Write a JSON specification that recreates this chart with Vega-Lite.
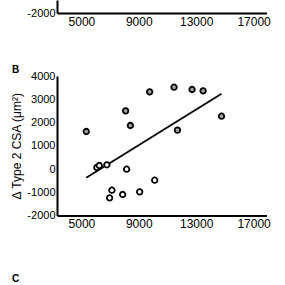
{
  "$schema": "https://vega.github.io/schema/vega-lite/v6.json",
  "background": "white",
  "padding": {"left": 10, "top": 0, "right": 0, "bottom": 0},
  "spacing": 38,
  "config": {
    "view": {"stroke": null},
    "font": "Liberation Sans",
    "axis": {
      "domainColor": "black", "domainWidth": 2, "ticks": false, "grid": false,
      "labelColor": "black", "labelFont": "Liberation Sans", "labelFontSize": 11,
      "labelExpr": "'' + datum.value",
      "titleFont": "Liberation Sans", "titleFontWeight": "normal", "titleColor": "black", "titleFontSize": 12
    },
    "axisX": {"labelFontSize": 12},
    "title": {"font": "Liberation Sans", "fontSize": 10, "fontWeight": "bold", "color": "black", "anchor": "start", "frame": "group", "dx": -45, "lineHeight": 5.5}
  },
  "datasets": {
    "points": [
      {"x": 5339, "y": 1613, "group": "gray"},
      {"x": 8084, "y": 2503, "group": "gray"},
      {"x": 8412, "y": 1871, "group": "gray"},
      {"x": 9760, "y": 3320, "group": "gray"},
      {"x": 11456, "y": 3518, "group": "gray"},
      {"x": 12713, "y": 3419, "group": "gray"},
      {"x": 13482, "y": 3363, "group": "gray"},
      {"x": 14766, "y": 2271, "group": "gray"},
      {"x": 11694, "y": 1669, "group": "gray"},
      {"x": 6079, "y": 65, "group": "white"},
      {"x": 6247, "y": 151, "group": "white"},
      {"x": 6778, "y": 181, "group": "white"},
      {"x": 8153, "y": -9, "group": "white"},
      {"x": 10109, "y": -482, "group": "white"},
      {"x": 7127, "y": -912, "group": "white"},
      {"x": 6966, "y": -1239, "group": "white"},
      {"x": 7874, "y": -1097, "group": "white"},
      {"x": 9061, "y": -981, "group": "white"}
    ],
    "fit": [
      {"x": 5339, "y": -378},
      {"x": 14766, "y": 3234}
    ],
    "panelA": [{"x": 9000, "y": -1800}],
    "panelC": [{"x": 9000, "y": 0}]
  },
  "vconcat": [
    {
      "width": 209.5,
      "height": 13,
      "data": {"name": "panelA"},
      "mark": {"type": "point", "opacity": 0},
      "encoding": {
        "x": {"field": "x", "type": "quantitative", "scale": {"domain": [3300, 17900], "nice": false, "zero": false},
              "axis": {"title": null, "values": [5000, 9000, 13000, 17000], "labelPadding": 3}},
        "y": {"field": "y", "type": "quantitative", "scale": {"domain": [-2000, -1440], "nice": false, "zero": false},
              "axis": {"title": null, "values": [-2000], "labelPadding": 2}}
      }
    },
    {
      "width": 209.5,
      "height": 139.5,
      "title": {"text": "B", "offset": -5},
      "layer": [
        {
          "data": {"name": "fit"},
          "mark": {"type": "line", "color": "black", "strokeWidth": 1.8},
          "encoding": {
            "x": {"field": "x", "type": "quantitative"},
            "y": {"field": "y", "type": "quantitative"}
          }
        },
        {
          "data": {"name": "points"},
          "mark": {"type": "point", "filled": false, "shape": "circle", "size": 30, "strokeWidth": 1.8, "stroke": "black", "opacity": 1},
          "encoding": {
            "x": {"field": "x", "type": "quantitative"},
            "y": {"field": "y", "type": "quantitative"},
            "fill": {"field": "group", "type": "nominal", "scale": {"domain": ["gray", "white"], "range": ["#a3a3a3", "#ffffff"]}, "legend": null}
          }
        }
      ],
      "encoding": {
        "x": {"field": "x", "type": "quantitative", "scale": {"domain": [3300, 17900], "nice": false, "zero": false},
              "axis": {"title": null, "values": [5000, 9000, 13000, 17000], "labelPadding": 3}},
        "y": {"field": "y", "type": "quantitative", "scale": {"domain": [-2000, 4000], "nice": false, "zero": false},
              "axis": {"title": "Δ Type 2 CSA (μm²)", "values": [-2000, -1000, 0, 1000, 2000, 3000, 4000], "labelPadding": 2, "titlePadding": 3}}
      }
    },
    {
      "width": 209.5,
      "height": 100,
      "title": {"text": ["", "C"], "offset": 1.5},
      "data": {"name": "panelC"},
      "mark": {"type": "point", "opacity": 0},
      "encoding": {
        "x": {"field": "x", "type": "quantitative", "scale": {"domain": [3300, 17900], "nice": false, "zero": false},
              "axis": {"title": null, "labels": false}},
        "y": {"field": "y", "type": "quantitative", "scale": {"domain": [0, 4], "nice": false, "zero": false},
              "axis": {"title": null, "values": [0, 1, 2, 3, 4], "labelPadding": 2}}
      }
    }
  ]
}
